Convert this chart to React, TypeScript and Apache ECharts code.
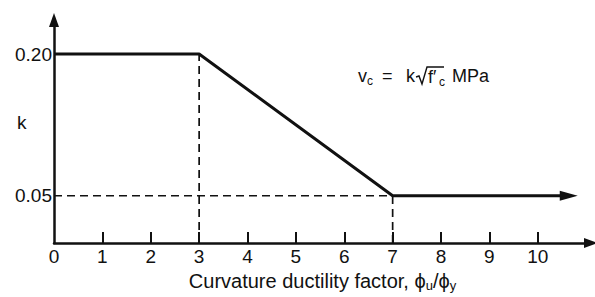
import React, { useEffect, useRef } from "react";
import * as echarts from "echarts";

const xTickValues = [1, 2, 3, 4, 5, 6, 7, 8, 9, 10];
const xLabelValues = [0, 1, 2, 3, 4, 5, 6, 7, 8, 9, 10];
const kLabelValues = [0.05, 0.2];
const curveX = [0, 3, 7, 10.64];
const curveK = [0.2, 0.2, 0.05, 0.05];
const guideH_X = [0, 7];
const guideH_K = [0.05, 0.05];
const guide3_X = [3, 3];
const guide3_K = [0, 0.2];
const guide7_X = [7, 7];
const guide7_K = [0, 0.05];

const FONT = "Liberation Sans, Arial, Helvetica, sans-serif";
const INK = "#111";

export default function App() {
  const ref = useRef<HTMLDivElement>(null);
  useEffect(() => {
    if (!ref.current) return;
    const chart = echarts.init(ref.current, null, { renderer: "svg" });
    const dashed = (xs: number[], ys: number[]) => ({
      type: "line",
      data: xs.map((x, i) => [x, ys[i]]),
      symbol: "none",
      lineStyle: { color: INK, width: 1.7, type: [8, 5] },
      z: 2,
    });
    const curveData = curveX.map((x, i) => {
      const last = i === curveX.length - 1;
      return last
        ? {
            value: [x, curveK[i]],
            symbol: "triangle",
            symbolSize: [10, 18],
            symbolRotate: -90,
            itemStyle: { color: INK },
          }
        : { value: [x, curveK[i]], symbol: "none" };
    });
    const txt = (text: string, x: number, y: number, size: number) => ({
      type: "text",
      x,
      y,
      style: {
        text,
        font: `${size}px ${FONT}`,
        fill: INK,
        textAlign: "left",
        textVerticalAlign: "middle",
      },
    });
    chart.setOption({
      animation: false,
      backgroundColor: "#fff",
      textStyle: { fontFamily: FONT },
      grid: { left: 54, right: 4, top: 20, bottom: 49, containLabel: false },
      xAxis: {
        type: "value",
        min: 0,
        max: 11.1,
        name: "Curvature ductility factor, ϕ{s|u}/ϕ{s|y}",
        nameLocation: "middle",
        nameGap: 27,
        nameTextStyle: {
          fontSize: 20,
          color: INK,
          fontFamily: FONT,
          rich: {
            s: { fontSize: 13, fontFamily: FONT, color: INK, padding: [9, 0, 0, 0] },
          },
        },
        axisLine: {
          show: true,
          onZero: false,
          symbol: ["none", "triangle"],
          symbolSize: [10, 14],
          lineStyle: { color: INK, width: 2.5 },
        },
        axisTick: {
          show: true,
          inside: true,
          length: 11,
          customValues: xTickValues,
          lineStyle: { color: INK, width: 2 },
        },
        axisLabel: {
          customValues: xLabelValues,
          fontSize: 19,
          color: INK,
          margin: 4,
          fontFamily: FONT,
        },
        splitLine: { show: false },
      },
      yAxis: {
        type: "value",
        min: 0,
        max: 0.236,
        axisLine: {
          show: true,
          onZero: false,
          symbol: ["none", "triangle"],
          symbolSize: [10, 14],
          lineStyle: { color: INK, width: 2.5 },
        },
        axisTick: { show: false },
        axisLabel: {
          customValues: kLabelValues,
          formatter: (v: number) => v.toFixed(2),
          fontSize: 19,
          color: INK,
          margin: 2,
          fontFamily: FONT,
        },
        splitLine: { show: false },
      },
      graphic: [
        txt("k", 17, 122, 19),
        txt("v", 358, 76, 18),
        txt("c", 367, 81, 12),
        txt("=", 382, 76, 18),
        txt("k", 406, 76, 18),
        {
          type: "polyline",
          shape: {
            points: [
              [416, 77],
              [419, 76],
              [422, 84],
              [427, 67],
              [444, 67],
            ],
          },
          style: { stroke: INK, lineWidth: 1.4, fill: null },
        },
        txt("f′", 428, 77, 18),
        txt("c", 439, 82, 12),
        txt("MPa", 452, 76, 18),
      ],
      series: [
        dashed(guideH_X, guideH_K),
        dashed(guide3_X, guide3_K),
        dashed(guide7_X, guide7_K),
        {
          type: "line",
          data: curveData,
          lineStyle: { color: INK, width: 3 },
          z: 3,
        },
      ],
    });
    return () => chart.dispose();
  }, []);
  return <div ref={ref} style={{ width: 595, height: 297, position: "absolute", left: 0, top: 0 }} />;
}
